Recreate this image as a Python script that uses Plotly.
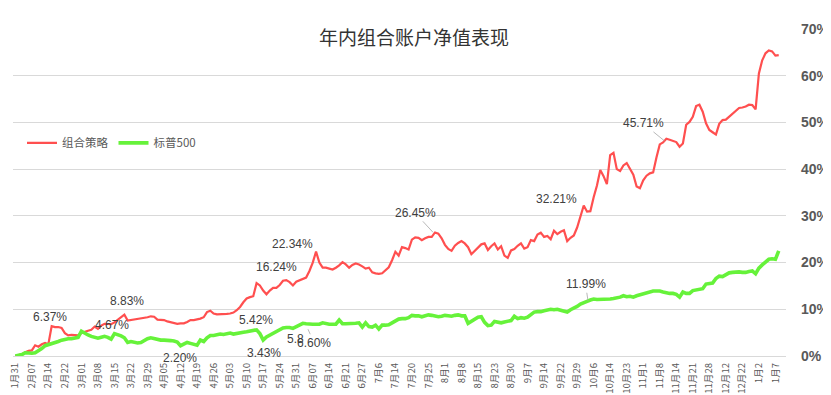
import plotly.graph_objects as go

tick_labels = ["1月31","2月07","2月14","2月22","3月01","3月08","3月15","3月22","3月29","4月05",
               "4月12","4月19","4月26","5月03","5月10","5月17","5月24","5月31","6月07","6月14",
               "6月21","6月27","7月6","7月14","7月20","7月25","8月1","8月8","8月15","8月23",
               "8月30","9月7","9月14","9月22","9月29","10月6","10月14","10月23","11月1","11月8",
               "11月14","11月21","11月28","12月12","12月22","1月2","1月7"]

portfolio = [0,0.2,0.4,0.8,1.1,1.2,2.3,2.0,2.5,2.8,
             2.5,6.4,6.2,6.2,6.0,4.9,4.4,4.5,4.5,4.4,
             4.9,5.2,5.4,5.6,6.3,5.8,6.5,6.9,6.8,6.8,
             7.2,7.7,8.3,8.83,7.6,7.7,7.8,7.9,8.0,8.1,
             8.3,8.5,8.4,7.8,7.7,7.7,7.4,7.2,7.0,6.9,
             7.0,7.0,7.3,7.7,7.7,7.8,8.0,8.3,9.4,9.7,
             9.1,8.9,8.9,8.9,9.0,9.1,9.3,9.8,10.5,11.5,
             12.3,12.6,12.8,15.6,15.1,14.0,13.2,14.0,14.6,14.6,
             15.2,16.1,16.24,15.8,15.1,15.9,16.2,16.5,16.8,18.2,
             20.0,22.34,20.0,18.9,18.9,18.7,18.5,18.9,19.4,20.1,
             19.6,18.9,19.5,19.8,19.6,19.2,18.7,18.9,17.9,17.7,
             17.6,17.7,18.3,19.0,20.5,22.3,21.5,23.3,23.1,22.8,
             24.9,25.4,25.3,24.8,25.2,25.5,25.5,26.45,26.2,25.2,
             23.8,22.9,22.5,23.6,24.2,24.6,24.1,23.3,21.8,22.5,
             23.3,23.9,24.1,22.7,23.5,24.1,22.8,23.5,21.5,21.0,
             22.6,22.9,23.6,24.1,23.0,23.3,24.8,24.6,26.0,26.4,
             25.5,25.7,25.0,26.8,26.1,26.6,26.9,24.6,25.3,25.8,
             27.5,29.9,32.21,30.9,31.0,34.0,36.5,39.8,38.5,36.8,
             43.0,43.5,40.0,39.6,40.8,41.3,40.0,38.8,36.3,35.9,
             37.6,38.6,39.1,39.3,42.5,45.3,45.71,46.5,46.3,46.1,
             45.8,44.8,45.5,49.5,50.1,51.2,53.5,53.8,52.3,49.8,
             48.4,47.9,47.4,49.7,50.5,50.6,51.2,52.0,52.6,53.1,
             53.2,53.4,53.8,53.7,52.8,60.5,63.3,64.8,65.4,65.2,
             64.3,64.4]

sp500 = [0,0.1,0.3,0.7,0.6,0.6,0.7,1.1,1.6,2.2,
         2.4,2.7,2.9,3.1,3.4,3.6,3.7,3.7,3.9,4.0,
         5.3,4.8,4.5,4.2,4.0,3.8,4.0,4.2,4.0,3.6,
         4.8,4.6,4.3,3.9,2.9,3.1,2.9,2.8,2.9,3.4,
         3.7,3.9,3.7,3.6,3.4,3.4,3.4,3.3,3.2,3.0,
         2.2,2.6,2.9,2.7,2.5,2.3,3.4,3.1,3.9,4.4,
         4.4,4.5,4.7,4.6,4.7,4.9,4.7,4.9,5.1,5.1,
         5.2,5.3,5.42,5.6,4.8,3.43,4.1,4.5,4.8,5.1,
         5.5,6.0,6.1,6.1,5.9,6.3,6.6,7.0,6.9,6.8,
         6.8,6.8,6.8,7.1,6.9,6.8,6.8,6.8,7.7,6.9,
         6.9,6.9,6.9,7.0,7.1,6.2,7.1,6.3,6.2,6.6,
         5.8,6.6,6.6,6.7,7.1,7.5,7.9,8.0,8.0,8.2,
         8.7,8.6,8.6,8.4,8.6,8.8,8.7,8.5,8.4,8.5,
         8.7,8.6,8.5,8.7,8.8,8.6,8.6,7.0,7.5,8.0,
         8.3,8.4,7.2,6.5,6.6,7.4,7.2,7.1,7.3,7.5,
         7.6,8.5,8.0,8.2,8.1,8.3,8.9,9.4,9.5,9.5,
         9.7,9.9,10.0,9.9,10.0,9.8,9.6,9.4,9.9,10.2,
         10.6,11.1,11.5,11.7,11.99,12.2,12.1,12.1,12.2,12.1,
         12.2,12.3,12.4,12.6,12.9,12.7,12.8,12.6,12.9,13.1,
         13.4,13.6,13.8,13.9,13.9,13.9,13.7,13.5,13.4,13.4,
         13.2,12.6,13.7,13.4,13.4,14.0,14.2,14.3,14.4,15.4,
         15.6,15.6,16.6,17.1,17.0,17.5,17.8,17.9,18.0,18.0,
         17.9,17.9,18.1,18.2,17.6,18.8,19.5,20.1,20.7,20.8,
         20.7,22.5]

series_names = ["组合策略", "标普500"]
ytick_vals = [0, 0.1, 0.2, 0.3, 0.4, 0.5, 0.6, 0.7]

# data labels: text, pixel position of text centre, optional leader target (pixel)
label_texts = ["6.37%", "4.67%", "8.83%", "2.20%", "5.42%", "3.43%", "16.24%", "22.34%",
               "5.8", "6.60%", "26.45%", "32.21%", "11.99%", "45.71%"]
label_pos = [(41.5, 309.5), (103.5, 317.5), (118.5, 293.5), (171.5, 350.5), (248.5, 312.5),
             (255.5, 345.5), (268.5, 259.5), (284.5, 236), (287.5, 331), (306, 335),
             (407, 205), (548.5, 191.5), (577.5, 276.5), (635, 115.5)]
label_tip = [None, None, None, None, None, None, None, None, None, (300, 321.5),
             (425, 224.5), None, (580, 293), (656.5, 133)]

W, H = 831, 395
L, R, T, B = 5, 53, 21, 46.7
PW, PH = W - L - R, H - T - B

x = list(range(len(portfolio)))
xa = [i for i in range(len(sp500))]

fig = go.Figure()
fig.add_trace(go.Scatter(x=x, y=[v / 100 for v in portfolio], mode="lines", name=series_names[0],
                         line=dict(color="#FF4F4F", width=2.2)))
fig.add_trace(go.Scatter(x=xa, y=[v / 100 for v in sp500], mode="lines", name=series_names[1],
                         line=dict(color="#66F23A", width=3.6)))

def px2paper(px, py):
    return (px - L) / PW, (H - B - py) / PH

annotations = []
for txt, (px, py), tip in zip(label_texts, label_pos, label_tip):
    if tip is None:
        xp, yp = px2paper(px, py)
        annotations.append(dict(text=txt, x=xp, y=yp, xref="paper", yref="paper",
                                showarrow=False, xanchor="center", yanchor="middle",
                                font=dict(size=12, color="#404040", family="Liberation Sans")))
    else:
        xp, yp = px2paper(*tip)
        annotations.append(dict(text=txt, x=xp, y=yp, xref="paper", yref="paper",
                                showarrow=True, ax=px - tip[0], ay=py - tip[1],
                                arrowhead=0, arrowwidth=0.8, arrowcolor="#A6A6A6",
                                standoff=0, startstandoff=0,
                                font=dict(size=12, color="#404040", family="Liberation Sans")))

tx, ty = px2paper(406, 29)
annotations.append(dict(text="年内组合账户净值表现", x=tx, y=ty, xref="paper", yref="paper",
                        showarrow=False, xanchor="center", yanchor="middle",
                        font=dict(size=19, color="#333333", family="Noto Sans CJK SC")))

lx, ly = px2paper(14, 135)

fig.update_layout(
    width=W, height=H,
    margin=dict(l=L, r=R, t=T, b=B, autoexpand=False),
    paper_bgcolor="white", plot_bgcolor="white",
    showlegend=True,
    legend=dict(orientation="h", x=lx, y=ly, xanchor="left", yanchor="middle",
                font=dict(size=11.5, color="#595959", family="Noto Sans CJK SC"),
                bgcolor="rgba(0,0,0,0)", itemwidth=30, tracegroupgap=0),
    annotations=annotations,
    xaxis=dict(range=[-0.7, 233.2], tickmode="array", automargin=False,
               tickvals=[5 * k for k in range(len(tick_labels))], ticktext=tick_labels,
               tickangle=-90, tickfont=dict(size=9.6, color="#595959", family="Noto Sans CJK SC"),
               showgrid=False, zeroline=False, showline=False, ticks="", ticklabelstandoff=4,
               ticklabeloverflow="allow"),
    yaxis=dict(side="right", range=[0, 0.7], tickvals=ytick_vals, tickformat=".0%",
               automargin=False,
               tickfont=dict(size=14, color="#595959", family="Liberation Sans", weight="bold"),
               showgrid=True, gridcolor="#D9D9D9", gridwidth=1, zeroline=True,
               zerolinecolor="#D9D9D9", zerolinewidth=1, showline=False, ticks="",
               ticklabelstandoff=14),
    font=dict(family="Noto Sans CJK SC"),
)

fig.write_html("out.html")
